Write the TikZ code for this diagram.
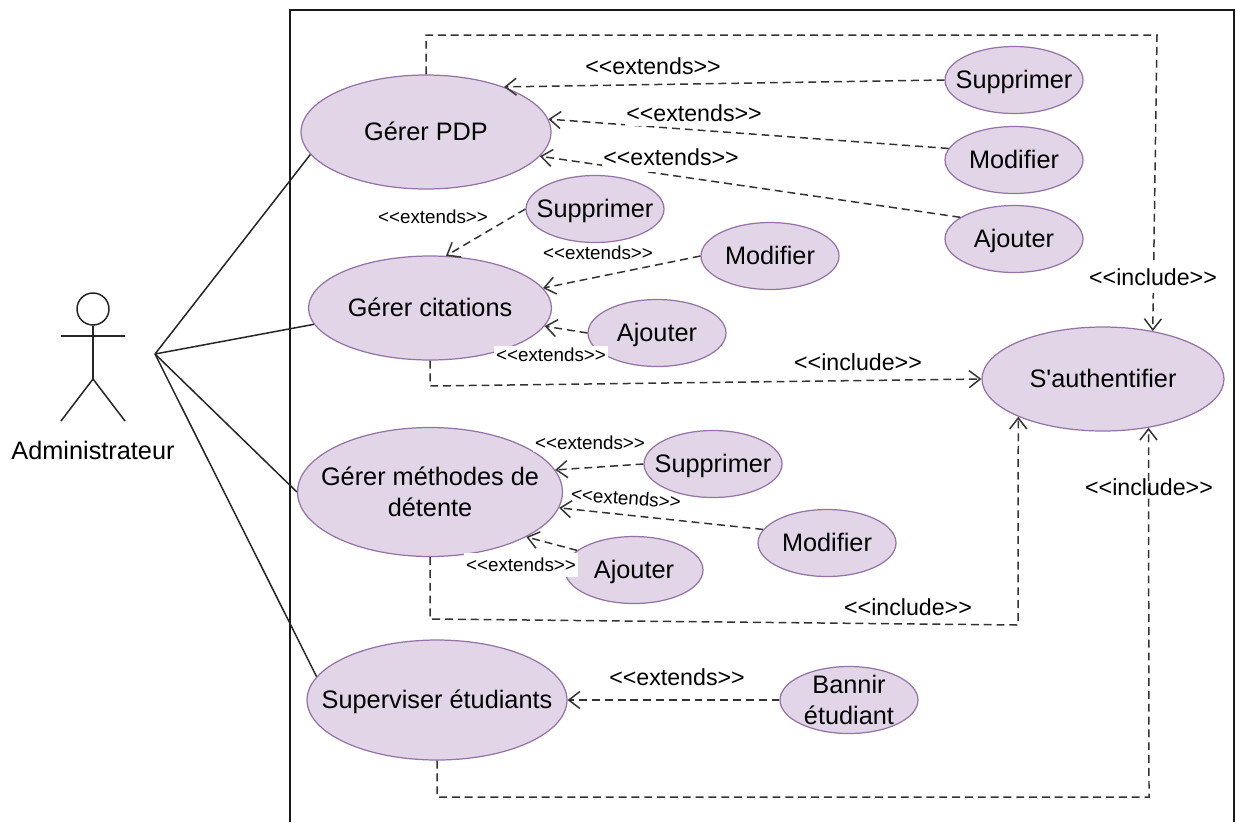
\documentclass[tikz,border=0pt]{standalone}
\usepackage{fontspec}
\setmainfont{Liberation Sans}[Ligatures=TeXOff]
\usetikzlibrary{arrows.meta,shapes.geometric}
\definecolor{ucfill}{HTML}{E1D5E7}
\definecolor{ucline}{HTML}{9673A6}

\begin{document}
\begin{tikzpicture}[
  x=0.02cm,y=-0.02cm,
  every node/.style={font=\fontsize{14.4}{17.5}\selectfont},
  usecase/.style={ellipse,draw=ucline,fill=ucfill,line width=0.7pt,inner xsep=-0.8cm,inner ysep=-0.2cm,align=center,
                  minimum width=2.76cm,minimum height=1.34cm,text height=10.4pt,text depth=1pt},
  bigcase/.style={usecase,minimum width=#1},
  twolines/.style={text height=,text depth=},
  solidline/.style={line width=0.85pt,draw=black!85},
  dashline/.style={line width=0.85pt,draw=black!80,dash pattern=on 4.5pt off 2.8pt,
                   -{Straight Barb[length=2.2mm,width=3.4mm,line width=0.85pt]}},
  extbig/.style={font=\fontsize{13.2}{16}\selectfont,inner sep=1pt},
  extsmall/.style={font=\fontsize{10.7}{13}\selectfont,inner sep=1pt},
  extwhite/.style={extsmall,fill=white}
]
  \useasboundingbox (0,0) rectangle (1236,822);
  \fill[white] (0,0) rectangle (1236,822);

  % system frame, open at the bottom
  \draw[line width=1.1pt,draw=black!90] (290,822) -- (290,10) -- (1234,10) -- (1234,822);

  % actor
  \node[circle,draw=black!85,line width=0.85pt,minimum size=0.64cm,inner sep=0pt] (actorhead) at (93,309) {};
  \coordinate (actorhip) at (93,379);
  \coordinate (actorarmL) at (61,336);
  \coordinate (actorarmR) at (125,336);
  \coordinate (actorfootL) at (61,421);
  \coordinate (actorfootR) at (125,421);
  \coordinate (actorend) at (155,354);
  \draw[solidline] (actorhead.south) -- (actorhip);
  \draw[solidline] (actorarmL) -- (actorarmR);
  \draw[solidline] (actorfootL) -- (actorhip) -- (actorfootR);
  \node (actorlabel) at (93,450) {Administrateur};

  % main use cases
  \node[bigcase=5cm,minimum height=2.28cm] (gererpdp) at (426,132) {Gérer PDP};
  \node[bigcase=4.86cm,minimum height=2.08cm] (gerercit) at (430,308) {Gérer citations};
  \node[bigcase=5.3cm,minimum height=2.58cm,twolines] (gerermeth) at (430,492) {Gérer méthodes de\\détente};
  \node[bigcase=5.2cm,minimum height=2.4cm] (superviser) at (437,700) {Superviser étudiants};
  \node[bigcase=4.84cm,minimum height=2.08cm] (auth) at (1103,379) {S'authentifier};

  % small use cases
  \node[usecase] (supp1) at (1014,80) {Supprimer};
  \node[usecase] (modif1) at (1014,160) {Modifier};
  \node[usecase] (ajout1) at (1014,239) {Ajouter};
  \node[usecase] (supp2) at (595,209) {Supprimer};
  \node[usecase] (modif2) at (770,256) {Modifier};
  \node[usecase] (ajout2) at (657,333) {Ajouter};
  \node[usecase] (supp3) at (713,464) {Supprimer};
  \node[usecase] (modif3) at (827,543) {Modifier};
  \node[usecase] (ajout3) at (634,570) {Ajouter};
  \node[usecase,twolines] (bannir) at (849,700) {Bannir\\étudiant};

  % actor links
  \draw[solidline] (actorend) -- (gererpdp.191);
  \draw[solidline] (actorend) -- (gerercit.188);
  \draw[solidline] (actorend) -- (gerermeth.west);
  \draw[solidline] (actorend) -- (superviser.169);

  % extends
  \draw[dashline] (supp1.west) -- (gererpdp.30);
  \draw[dashline] (modif1.170) -- (gererpdp.6);
  \draw[dashline] (ajout1.158) -- (gererpdp.-12);
  \draw[dashline] (supp2.west) -- (gerercit.73);
  \draw[dashline] (modif2.west) -- (gerercit.10);
  \draw[dashline] (ajout2.west) -- (gerercit.-9);
  \draw[dashline] (supp3.west) -- (gerermeth.10);
  \draw[dashline] (modif3.168) -- (gerermeth.-7);
  \draw[dashline] (ajout3.161) -- (gerermeth.-25);
  \draw[dashline] (bannir.west) -- (superviser.east);

  % include routes
  \coordinate (bendA) at (426,35);
  \coordinate (bendB) at (1157,35);
  \coordinate (bendC) at (430,386);
  \coordinate (bendD) at (430,619);
  \coordinate (bendE) at (1018,625);
  \coordinate (bendF) at (437,797);
  \coordinate (bendG) at (1149,797);
  \draw[dashline] (gererpdp.north) -- (bendA) -- (bendB) -- (auth.44);
  \draw[dashline] (gerercit.south) -- (bendC) -- (auth.west);
  \draw[dashline] (gerermeth.south) -- (bendD) -- (bendE) -- (auth.204);
  \draw[dashline] (superviser.south) -- (bendF) -- (bendG) -- (auth.-47);

  % labels
  \node[extbig] (lab1) at (653,66) {<<extends>>};
  \node[extbig,fill=white,inner ysep=2.8pt] (lab2) at (694,113) {<<extends>>};
  \node[extbig,fill=white,inner ysep=3.7pt] (lab3) at (671,157) {<<extends>>};
  \node[extsmall] (lab4) at (433,217) {<<extends>>};
  \node[extsmall] (lab5) at (598,253) {<<extends>>};
  \node[extwhite] (lab6) at (551,355) {<<extends>>};
  \node[extwhite] (lab7) at (590,443) {<<extends>>};
  \node[extsmall,rotate=-4] (lab8) at (626,498) {<<extends>>};
  \node[extwhite,inner ysep=3pt] (lab9) at (521,565) {<<extends>>};
  \node[extbig] (lab10) at (677,677) {<<extends>>};
  \node[extbig,fill=white,inner ysep=4pt] (inc1) at (1153,277) {<<include>>};
  \node[extbig] (inc2) at (858,362) {<<include>>};
  \node[extbig] (inc3) at (1149,487) {<<include>>};
  \node[extbig] (inc4) at (908,607) {<<include>>};
\end{tikzpicture}
\end{document}
